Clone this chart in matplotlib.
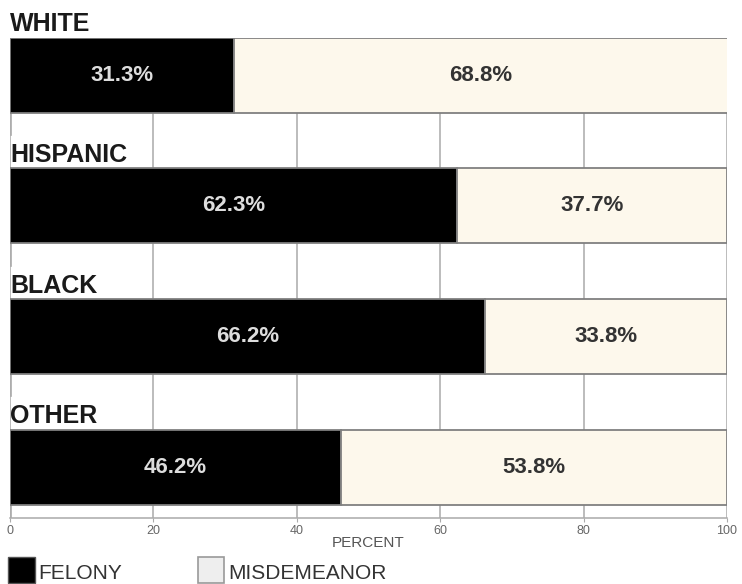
import matplotlib
matplotlib.use("Agg")
import matplotlib.pyplot as plt
from matplotlib.patches import Rectangle

categories = ["WHITE", "HISPANIC", "BLACK", "OTHER"]
felony = [31.3, 62.3, 66.2, 46.2]
misdemeanor = [68.8, 37.7, 33.8, 53.8]
xticks = [0, 20, 40, 60, 80, 100]

plt.rcParams['font.family'] = ['Liberation Sans', 'DejaVu Sans']

fig = plt.figure(figsize=(7.42, 5.84), dpi=100)
W, H = 742, 584
left, right, top, bottom = 10, 727, 38, 518
ax = fig.add_axes([left / W, 1 - bottom / H, (right - left) / W, (bottom - top) / H])

ypos = list(range(len(categories)))
bh = 0.573
ax.barh(ypos, felony, height=bh, color='black', edgecolor='#808080', linewidth=1.3, zorder=3)
ax.barh(ypos, misdemeanor, left=felony, height=bh, color='#fdf8ec', edgecolor='#808080', linewidth=1.3, zorder=3)

for i, (f, m) in enumerate(zip(felony, misdemeanor)):
    ax.text(f / 2, i, f"{f}%", color='#dddddd', ha='center', va='center', fontsize=16, fontweight='bold', zorder=4)
    ax.text(f + m / 2, i, f"{m}%", color='#333333', ha='center', va='center', fontsize=16, fontweight='bold', zorder=4)
    ax.text(0, i - bh / 2 - 0.05, categories[i], ha='left', va='baseline', fontsize=18, fontweight='bold',
            color='#1a1a1a', clip_on=False)
    # short stub at zero below each bar
    ax.plot([0.15, 0.15], [i + bh / 2, i + bh / 2 + 0.17], color='#aaaaaa', linewidth=1.2, zorder=2, clip_on=True)

ax.set_xlim(0, 100)
ax.set_ylim(3.386, -0.283)
ax.set_xticks(xticks)
ax.set_xticklabels([str(t) for t in xticks], fontsize=9, color='#666666',
                   family=['Liberation Sans Narrow', 'Liberation Sans', 'DejaVu Sans'])
ax.set_yticks([])
ax.grid(axis='x', color='#aaaaaa', linewidth=1.1, zorder=0)
for s in ['top', 'right', 'left']:
    ax.spines[s].set_visible(False)
ax.spines['bottom'].set_color('#aaaaaa')
ax.spines['bottom'].set_linewidth(1.1)
ax.tick_params(axis='x', direction='out', length=3, color='#aaaaaa', pad=2)
ax.set_xlabel("PERCENT", fontsize=11, color='#555555', labelpad=-1,
              family=['Liberation Sans Narrow', 'Liberation Sans', 'DejaVu Sans'])

# legend
fig.patches.append(Rectangle((8 / W, 1 - 583 / H), 27 / W, 26 / H, transform=fig.transFigure,
                             facecolor='black', edgecolor='#555555', linewidth=1))
fig.text(38 / W, 1 - 579 / H, "FELONY", fontsize=15, color='#333333', va='baseline', ha='left')
fig.patches.append(Rectangle((198 / W, 1 - 583 / H), 26 / W, 26 / H, transform=fig.transFigure,
                             facecolor='#eeeeee', edgecolor='#999999', linewidth=1.2))
fig.text(228 / W, 1 - 579 / H, "MISDEMEANOR", fontsize=15, color='#333333', va='baseline', ha='left')

fig.savefig("out.png", dpi=100)
